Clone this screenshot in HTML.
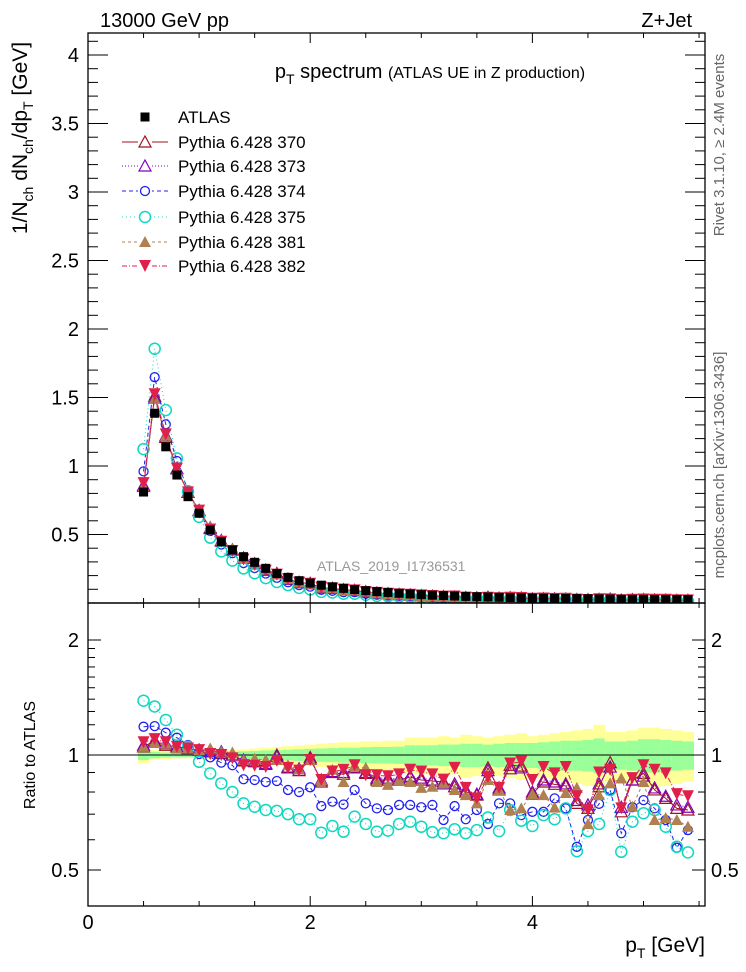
<!DOCTYPE html>
<html><head><meta charset="utf-8"><style>
body{margin:0;background:#fff}
svg{display:block;font-family:"Liberation Sans",sans-serif}
</style></head><body>
<svg id="chart" width="746" height="972" viewBox="0 0 746 972"></svg>
<script>
const pt = [0.5,0.6,0.7,0.8,0.9,1.0,1.1,1.2,1.3,1.4,1.5,1.6,1.7,1.8,1.9,2.0,2.1,2.2,2.3,2.4,2.5,2.6,2.7,2.8,2.9,3.0,3.1,3.2,3.3,3.4,3.5,3.6,3.7,3.8,3.9,4.0,4.1,4.2,4.3,4.4,4.5,4.6,4.7,4.8,4.9,5.0,5.1,5.2,5.3,5.4];
const atlas = [0.81,1.385,1.14,0.934,0.776,0.655,0.533,0.447,0.387,0.338,0.297,0.253,0.215,0.187,0.163,0.145,0.13,0.118,0.107,0.098,0.09,0.083,0.077,0.071,0.066,0.061,0.057,0.054,0.051,0.048,0.046,0.044,0.042,0.040,0.038,0.036,0.035,0.034,0.033,0.032,0.031,0.030,0.029,0.028,0.027,0.027,0.026,0.026,0.025,0.025];
const r370 = [1.05,1.09,1.06,1.05,1.04,1.03,1.03,1.01,1.0,0.965,0.96,0.945,1.0,0.925,0.91,0.985,0.85,0.9,0.89,0.925,0.895,0.86,0.86,0.86,0.875,0.86,0.855,0.85,0.826,0.80,0.785,0.925,0.81,0.94,0.935,0.79,0.85,0.838,0.83,0.747,0.725,0.826,0.955,0.71,0.86,0.895,0.81,0.77,0.725,0.718];
const r373 = [1.06,1.08,1.07,1.05,1.04,1.03,1.02,1.02,1.0,0.97,0.965,0.95,0.99,0.93,0.92,0.975,0.86,0.905,0.9,0.93,0.9,0.87,0.87,0.865,0.88,0.87,0.86,0.84,0.84,0.81,0.79,0.91,0.82,0.92,0.925,0.80,0.86,0.85,0.84,0.76,0.74,0.84,0.93,0.73,0.86,0.88,0.82,0.78,0.74,0.73];
const r374 = [1.186,1.19,1.144,1.11,1.062,1.006,0.986,0.955,0.94,0.864,0.86,0.85,0.855,0.81,0.80,0.823,0.735,0.755,0.742,0.81,0.747,0.725,0.718,0.74,0.74,0.73,0.74,0.676,0.735,0.679,0.718,0.66,0.747,0.747,0.696,0.71,0.71,0.77,0.725,0.575,0.676,0.745,0.81,0.624,0.73,0.762,0.725,0.676,0.572,0.636];
const r375 = [1.387,1.34,1.235,1.13,1.05,0.96,0.895,0.843,0.80,0.747,0.732,0.718,0.714,0.70,0.679,0.679,0.626,0.652,0.63,0.69,0.66,0.63,0.634,0.66,0.669,0.649,0.628,0.624,0.639,0.624,0.636,0.686,0.632,0.718,0.673,0.652,0.696,0.679,0.725,0.56,0.632,0.66,0.81,0.558,0.669,0.704,0.718,0.649,0.575,0.556];
const r381 = [1.05,1.075,1.07,1.04,1.04,1.03,1.04,1.02,1.015,0.97,0.978,0.97,0.97,0.94,0.918,0.97,0.86,0.915,0.85,0.935,0.925,0.85,0.835,0.86,0.85,0.82,0.826,0.843,0.81,0.785,0.747,0.86,0.81,0.718,0.725,0.79,0.785,0.728,0.795,0.82,0.66,0.785,0.843,0.868,0.732,0.85,0.676,0.684,0.676,0.649];
const r382 = [1.08,1.10,1.08,1.05,1.04,1.03,1.006,1.0,0.98,0.94,0.937,0.93,0.965,0.925,0.91,0.97,0.86,0.905,0.915,0.94,0.885,0.885,0.88,0.89,0.915,0.905,0.89,0.862,0.925,0.82,0.77,0.875,0.82,0.95,0.96,0.86,0.93,0.895,0.93,0.78,0.716,0.9,0.915,0.725,0.87,0.94,0.915,0.895,0.79,0.78];
const totErr = [5,3,2.5,2,2,2,2.5,3,3,3.5,4,4.5,5,5.5,6,6.5,7,7.5,8,8,8.5,8.5,9,9,11,11,11,12,11,13,12,11,12,13,14,12,13,14,15,16,17,20,15,15,16,18,18,17,16,15];
const statErr = [3,2,1.5,1.2,1.2,1.2,1.5,1.8,2,2.2,2.5,2.8,3,3.2,3.5,3.8,4,4.2,4.5,4.5,4.8,5,5,5.2,6,6,6,6.5,6.5,7,7,6.5,7,7.5,7.5,7.5,8,8.5,9,9,9.5,10.5,8.5,8.5,9,10,10,9.5,9,8.5];
const xTickLabels = ["0","2","4"];
const yMainTickLabels = ["0.5","1","1.5","2","2.5","3","3.5","4"];
const yRatioTickLabels = ["0.5","1","2"];

const NS="http://www.w3.org/2000/svg";
const svg=document.getElementById('chart');
const L=88,R=705,T=33,MB=603,RB=906;
const xS=v=>L+v*111.1;
const yM=v=>MB-v*137;
const yR=v=>755-Math.log2(v)*115;
function mk(tag,attrs,parent){const e=document.createElementNS(NS,tag);for(const k in attrs)e.setAttribute(k,attrs[k]);(parent||svg).appendChild(e);return e;}
function txt(s,x,y,size,attrs,parent){const e=mk('text',Object.assign({x:x,y:y,'font-size':size,fill:'#000'},attrs||{}),parent);e.textContent=s;return e;}

// clip groups
const defs=mk('defs',{});
const c1=mk('clipPath',{id:'cm'},defs);mk('rect',{x:L,y:T,width:R-L,height:MB-T},c1);
const c2=mk('clipPath',{id:'cr'},defs);mk('rect',{x:L,y:MB,width:R-L,height:RB-MB},c2);

// ratio bands
const bands=mk('g',{'clip-path':'url(#cr)'});


pt.forEach((p,i)=>{
  const x0=xS(p-0.05),x1=xS(p+0.05);
  const y=mk('rect',{x:x0,y:yR(1+totErr[i]/100),width:x1-x0+0.5,height:yR(1-totErr[i]/100)-yR(1+totErr[i]/100),fill:'#ffff99'},bands);
  
  
  const g=mk('rect',{x:x0,y:yR(1+statErr[i]/100),width:x1-x0+0.5,height:yR(1-statErr[i]/100)-yR(1+statErr[i]/100),fill:'#99ff99'},bands);
  
  
});
const one=mk('line',{x1:L,x2:R,y1:yR(1),y2:yR(1),stroke:'#000','stroke-width':1});



// series
const series=[
 {name:'370',r:r370,color:'#a01020',dash:'',marker:'tri-open'},
 {name:'373',r:r373,color:'#8000c0',dash:'1,2',marker:'tri-open'},
 {name:'374',r:r374,color:'#2020f0',dash:'4,3',marker:'circ-small'},
 {name:'375',r:r375,color:'#10d8c0',dash:'1,3',marker:'circ'},
 {name:'381',r:r381,color:'#b08050',dash:'3,3',marker:'tri-fill'},
 {name:'382',r:r382,color:'#e0204a',dash:'5,2,1,2',marker:'tri-down'}
];
function marker(type,x,y,color,parent){
  let e;
  if(type==='tri-open') e=mk('polygon',{points:`${x},${y-6} ${x-6},${y+5} ${x+6},${y+5}`,fill:'none',stroke:color,'stroke-width':1.2},parent);
  else if(type==='tri-fill') e=mk('polygon',{points:`${x},${y-6} ${x-6},${y+5} ${x+6},${y+5}`,fill:color},parent);
  else if(type==='tri-down') e=mk('polygon',{points:`${x-6},${y-6} ${x+6},${y-6} ${x},${y+6}`,fill:color},parent);
  else if(type==='circ') e=mk('circle',{cx:x,cy:y,r:5.5,fill:'none',stroke:color,'stroke-width':1.5},parent);
  else if(type==='circ-small') e=mk('circle',{cx:x,cy:y,r:4.5,fill:'none',stroke:color,'stroke-width':1.3},parent);
  else e=mk('rect',{x:x-4.5,y:y-4.5,width:9,height:9,fill:color},parent);
  return e;
}
series.forEach(s=>{
  const gm=mk('g',{'clip-path':'url(#cm)'});
  
  
  const gr=mk('g',{'clip-path':'url(#cr)'});
  
  
  const pm=pt.map((p,i)=>`${xS(p)},${yM(atlas[i]*s.r[i])}`).join(' ');
  const pr=pt.map((p,i)=>`${xS(p)},${yR(s.r[i])}`).join(' ');
  mk('polyline',{points:pm,fill:'none',stroke:s.color,'stroke-width':1,'stroke-dasharray':s.dash},gm);
  mk('polyline',{points:pr,fill:'none',stroke:s.color,'stroke-width':1,'stroke-dasharray':s.dash},gr);
  pt.forEach((p,i)=>{
    const a=marker(s.marker,xS(p),yM(atlas[i]*s.r[i]),s.color,gm);
    
    
    const b=marker(s.marker,xS(p),yR(s.r[i]),s.color,gr);
    
    
  });
});
// atlas data
const ga=mk('g',{'clip-path':'url(#cm)'});


pt.forEach((p,i)=>{
  const m=marker('sq',xS(p),yM(atlas[i]),'#000',ga);
  
  
});
// re-draw 382 & 381 on top in main like reference (already) - atlas under? keep.

// frames
const f1=mk('rect',{x:L,y:T,width:R-L,height:MB-T,fill:'none',stroke:'#000','stroke-width':1.3});


const f2=mk('rect',{x:L,y:MB,width:R-L,height:RB-MB,fill:'none',stroke:'#000','stroke-width':1.3});



// ticks
const tk=mk('g',{stroke:'#000','stroke-width':1});


for(let v=0;v<=5.5;v+=0.5){
  const x=xS(v);const maj=Math.abs(v%2)<1e-6;
  const len=maj?10:5;
  [T,MB].forEach(y=>mk('line',{x1:x,x2:x,y1:y,y2:y+len},tk));
  [MB,RB].forEach(y=>mk('line',{x1:x,x2:x,y1:y,y2:y-len},tk));
}
for(let k=1;k<=41;k++){
  const v=k/10;const y=yM(v);const maj=k%5===0;const len=maj?20:10;
  mk('line',{x1:L,x2:L+len,y1:y,y2:y},tk);mk('line',{x1:R,x2:R-len,y1:y,y2:y},tk);
}
[0.5,0.6,0.7,0.8,0.9,1,1.1,1.2,1.3,1.4,1.5,1.6,1.7,1.8,1.9,2].forEach(v=>{
  const y=yR(v);const maj=(v===0.5||v===1||v===2);const len=maj?13:7;
  mk('line',{x1:L,x2:L+len,y1:y,y2:y},tk);mk('line',{x1:R,x2:R-len,y1:y,y2:y},tk);
});
// tick labels
xTickLabels.forEach(s=>{const t=txt(s,xS(+s),929,20,{'text-anchor':'middle'});});
yMainTickLabels.forEach(s=>{const t=txt(s,79,yM(+s)+7,20,{'text-anchor':'end'});});
yRatioTickLabels.forEach(s=>{
  const t=txt(s,79,yR(+s)+7,20,{'text-anchor':'end'});
  const t2=txt(s,711,yR(+s)+7,20,{});
});

// legend
const legend=mk('g',{});


const ly=[117,142,166,191,217,242,266];
const le0=marker('sq',145,ly[0],'#000',legend);
const lt0=txt('ATLAS',178,ly[0]+6,17,{},legend);


series.forEach((s,i)=>{
  const y=ly[i+1];
  mk('line',{x1:122,x2:168,y1:y,y2:y,stroke:s.color,'stroke-width':1,'stroke-dasharray':s.dash},legend);
  mk('rect',{x:138,y:y-7,width:14,height:14,fill:'#fff'},legend);
  marker(s.marker,145,y,s.color,legend);
  const t=txt('Pythia 6.428 '+s.name,178,y+6,17,{},legend);
  
  
});

// texts
function named(el,n){}
const t1=txt('13000 GeV pp',100,27,20,{});named(t1,'energy-label');
const t2=txt('Z+Jet',692,27,20,{'text-anchor':'end'});named(t2,'process-label');
const tt=mk('text',{x:430,y:78,'font-size':20,'text-anchor':'middle'});named(tt,'plot-title');
tt.innerHTML='p<tspan font-size="14" dy="6">T</tspan><tspan dy="-6"> spectrum </tspan><tspan font-size="16"> (ATLAS UE in Z production)</tspan>';
const wm=txt('ATLAS_2019_I1736531',317,571,14,{fill:'#999'});named(wm,'analysis-id');
const yl=mk('text',{x:0,y:0,'font-size':21,'text-anchor':'middle',transform:'translate(27,138) rotate(-90)'});named(yl,'y-axis-title');
yl.innerHTML='1/N<tspan font-size="14" dy="6">ch</tspan><tspan dy="-6"> dN</tspan><tspan font-size="14" dy="6">ch</tspan><tspan dy="-6">/dp</tspan><tspan font-size="14" dy="6">T</tspan><tspan dy="-6"> [GeV]</tspan>';
const rl=txt('Ratio to ATLAS',0,0,16,{'text-anchor':'middle',transform:'translate(35,755) rotate(-90)'});named(rl,'ratio-y-axis-title');
const xl=mk('text',{x:705,y:952,'font-size':21,'text-anchor':'end'});named(xl,'x-axis-title');
xl.innerHTML='p<tspan font-size="14" dy="6">T</tspan><tspan dy="-6"> [GeV]</tspan>';
const rv=txt('Rivet 3.1.10, \u2265 2.4M events',0,0,15,{fill:'#666','text-anchor':'middle',transform:'translate(724,145) rotate(-90)'});named(rv,'rivet-version-label');
const mc=txt('mcplots.cern.ch [arXiv:1306.3436]',0,0,15,{fill:'#666','text-anchor':'middle',transform:'translate(724,465) rotate(-90)'});named(mc,'mcplots-source-label');
</script>
</body></html>
